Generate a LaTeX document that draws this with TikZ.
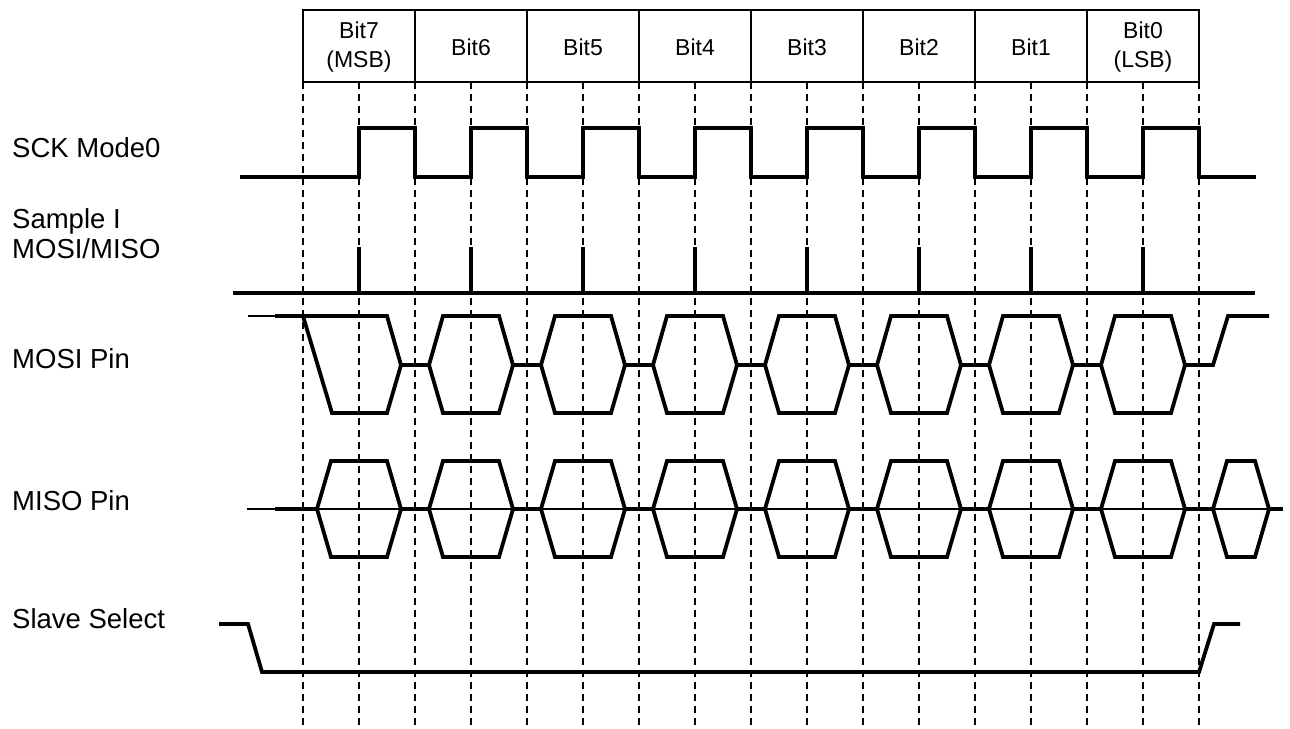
\documentclass[tikz,border=0pt]{standalone}
\usepackage{fontspec}
\setmainfont{Liberation Sans}
\begin{document}
\begin{tikzpicture}[x=1pt,y=-1pt,
  sig/.style={line width=3.8pt, line join=miter, miter limit=2, line cap=butt},
  thinsig/.style={line width=2.6pt},
  guide/.style={line width=1.3pt, dash pattern=on 7pt off 5pt},
  frame/.style={line width=1.3pt},
  lbl/.style={anchor=base west, inner sep=0pt, font=\fontsize{27.5}{30}\selectfont, align=left},
  bitlbl/.style={anchor=base, inner sep=0pt, font=\fontsize{23}{29}\selectfont, align=center}]
\useasboundingbox (0,0) rectangle (1290,728);
\fill[white] (0,0) rectangle (1290,728);

% header
\draw[frame] (303,10) rectangle (1199,82);
\foreach \k in {1,...,7} { \draw[frame] (303+112*\k,10) -- (303+112*\k,82); }
\node[bitlbl] (b7) at (359,67) {Bit7\\(MSB)};
\node[bitlbl] (b6) at (471,55) {Bit6};
\node[bitlbl] (b5) at (583,55) {Bit5};
\node[bitlbl] (b4) at (695,55) {Bit4};
\node[bitlbl] (b3) at (807,55) {Bit3};
\node[bitlbl] (b2) at (919,55) {Bit2};
\node[bitlbl] (b1) at (1031,55) {Bit1};
\node[bitlbl] (b0) at (1143,67) {Bit0\\(LSB)};

% guides
\foreach \j in {0,...,16} { \draw[guide] (303+56*\j,82) -- (303+56*\j,728); }

% labels
\node[lbl] (lsck) at (12,157) {SCK Mode0};
\node[lbl] (lsam) at (12,258) {Sample I\\MOSI/MISO};
\node[lbl] (lmosi) at (12,368) {MOSI Pin};
\node[lbl] (lmiso) at (12,510) {MISO Pin};
\node[lbl] (lss) at (12,628) {Slave Select};

% SCK
\draw[sig] (240,177)
  \foreach \k in {0,...,7} { -- (359+112*\k,177) -- (359+112*\k,128) -- (415+112*\k,128) -- (415+112*\k,177) }
  -- (1256,177);

% Sample
\draw[sig] (233,293) -- (1255,293);
\foreach \k in {0,...,7} { \draw[sig] (359+112*\k,247) -- (359+112*\k,293); }

% MOSI
\draw[thinsig] (248,316) -- (277,316);
\draw[sig] (303,316) -- (332,413) -- (387,413) -- (401,365) -- (387,316) -- (275,316);
\foreach \k in {1,...,7} {
  \draw[sig] (317+112*\k,365) -- (331+112*\k,316) -- (387+112*\k,316) -- (401+112*\k,365)
     -- (387+112*\k,413) -- (331+112*\k,413) -- cycle;
}
\foreach \k in {0,...,5} { \draw[sig] (401+112*\k,365) -- (429+112*\k,365); }
\draw[sig] (1073,365) -- (1101,365);
\draw[sig] (1185,365) -- (1213,365) -- (1228,316) -- (1269,316);

% MISO
\draw[line width=1.2pt] (247,509) -- (1283,509);
\draw[sig] (275,509) -- (317,509);
\foreach \k in {0,...,7} {
  \draw[sig] (317+112*\k,509) -- (331+112*\k,461) -- (387+112*\k,461) -- (401+112*\k,509)
     -- (387+112*\k,557) -- (331+112*\k,557) -- cycle;
  \draw[sig] (401+112*\k,509) -- (429+112*\k,509);
}
\draw[sig] (1213,509) -- (1227,461) -- (1255,461) -- (1269,509) -- (1255,557) -- (1227,557) -- cycle;
\draw[sig] (1269,509) -- (1283,509);

% Slave select
\draw[sig] (219,624) -- (248,624) -- (262,672) -- (1199,672) -- (1214,624) -- (1240,624);
\end{tikzpicture}
\end{document}
